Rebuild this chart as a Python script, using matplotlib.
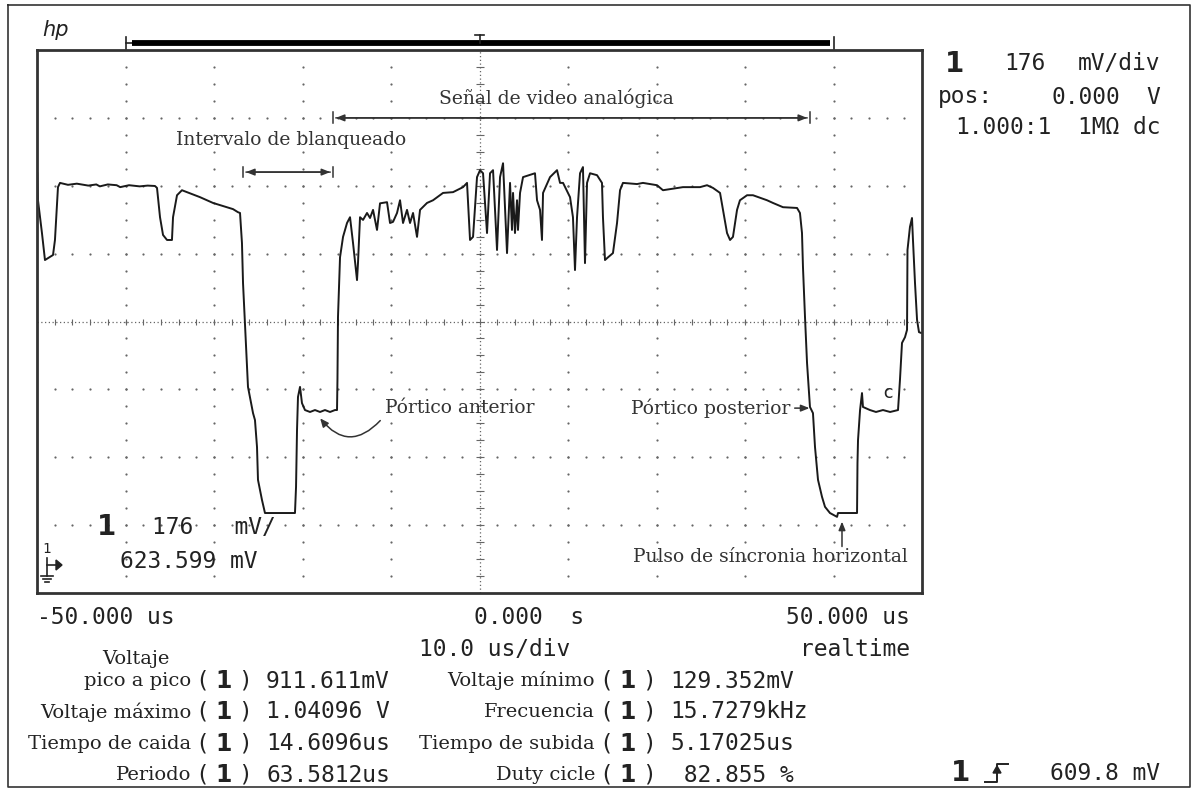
import numpy as np
import matplotlib.pyplot as plt
from matplotlib.lines import Line2D

# screen size in pixels
W, H = 1194, 790

# scope settings
center_mv = 623.6
mv_per_div = 176.0

# trace: time (us) and voltage (mV)
t_us = [-49.97, -49.89, -49.44, -49.10, -48.19, -47.97, -47.63, -47.40, -46.5, -45.5,
        -44.2, -43.3, -42.9, -42.0, -41.0, -40.6, -39.6, -38.4, -37.5, -36.67,
        -36.44, -36.10, -35.76, -35.31, -34.75, -34.63, -34.18, -33.62, -31.58, -30.11,
        -27.85, -27.29, -27.06, -26.84, -26.72, -26.50, -26.27, -26.16, -25.59, -25.37,
        -25.14, -25.03, -24.58, -24.24, -20.85, -20.73, -20.62, -20.51, -20.28, -20.06,
        -19.72, -19.15, -18.59, -18.02, -17.46, -16.89, -16.33, -16.10, -16.05, -15.99,
        -15.76, -15.42, -14.97, -14.63, -14.29, -13.84, -13.73, -13.50, -13.16, -12.71,
        -12.37, -12.03, -11.58, -11.24, -10.45, -10.11, -9.77, -9.32, -8.98, -8.64,
        -8.19, -7.85, -7.51, -7.06, -6.72, -5.93, -5.25, -4.12, -2.99, -1.86,
        -1.41, -1.07, -0.73, -0.28, 0.06, 0.40, 0.85, 1.19, 1.53, 1.98,
        2.32, 2.66, 3.11, 3.45, 3.67, 3.79, 4.01, 4.24, 4.35, 4.58,
        4.92, 6.27, 6.50, 6.84, 7.06, 7.18, 7.97, 8.76, 9.10, 9.44,
        10.23, 10.56, 10.79, 11.02, 11.36, 11.69, 11.92, 12.15, 12.49, 13.28,
        13.84, 13.95, 14.18, 14.52, 15.08, 15.54, 15.88, 16.21, 17.80, 18.47,
        20.06, 20.73, 22.99, 24.92, 25.71, 26.38, 27.18, 27.51, 27.97, 28.31,
        28.64, 29.10, 29.43, 30.23, 30.90, 32.49, 33.16, 34.29, 35.88, 36.21,
        36.44, 36.55, 36.78, 37.01, 37.34, 37.68, 37.91, 38.25, 38.70, 39.04,
        39.60, 40.40, 40.51, 42.66, 42.71, 42.77, 43.00, 43.22, 43.33, 44.12,
        44.8, 45.59, 46.4, 47.29, 47.51, 47.74, 48.08, 48.31, 48.36, 48.64,
        48.87, 48.98, 49.21, 49.44, 49.66, 49.89]
v_mv = [1008, 938, 853, 783, 796, 835, 972, 983, 978, 981,
        976, 979, 974, 979, 977, 972, 977, 974, 976, 975,
        970, 894, 848, 835, 835, 894, 951, 964, 946, 931,
        915, 907, 905, 827, 723, 619, 506, 454, 386, 368,
        298, 213, 161, 127, 127, 195, 342, 428, 454, 412,
        394, 389, 394, 389, 394, 389, 394, 394, 472, 635,
        790, 843, 879, 894, 827, 731, 775, 894, 887, 905,
        892, 913, 861, 930, 933, 879, 882, 905, 938, 879,
        913, 879, 905, 843, 913, 931, 938, 957, 959, 972,
        983, 835, 843, 998, 1016, 1008, 853, 1008, 1016, 809,
        998, 1034, 801, 983, 861, 957, 853, 938, 861, 957,
        998, 1008, 938, 913, 835, 957, 998, 1016, 983, 983,
        946, 894, 757, 894, 1008, 1024, 775, 983, 1008, 1003,
        983, 894, 783, 790, 801, 879, 964, 983, 980, 983,
        977, 964, 972, 972, 977, 970, 957, 913, 853, 835,
        843, 913, 938, 951, 951, 938, 931, 920, 918, 905,
        853, 765, 635, 516, 402, 386, 298, 213, 169, 143,
        127, 117, 127, 127, 257, 316, 394, 438, 402, 394,
        389, 394, 389, 394, 472, 568, 583, 602, 809, 869,
        892, 835, 723, 628, 596, 594]

# left column of measurements
left_labels = ["pico a pico", "Voltaje máximo", "Tiempo de caida", "Periodo"]
left_values = ["911.611mV", "1.04096 V", "14.6096us", "63.5812us"]
# right column of measurements
right_labels = ["Voltaje mínimo", "Frecuencia", "Tiempo de subida", "Duty cicle"]
right_values = ["129.352mV", "15.7279kHz", "5.17025us", " 82.855 %"]

MONO = "DejaVu Sans Mono"
SERIF = "DejaVu Serif"
INK = "#222222"
NOTE = "#333333"
FS_MONO = 16.5
FS_SERIF = 13.5


def ftxt(x, y, s, **kw):
    # place text using screen pixel positions
    kw.setdefault("color", INK)
    fig.text(x / W, 1 - y / H, s, **kw)


def fline(xs, ys, **kw):
    kw.setdefault("color", INK)
    fig.add_artist(Line2D([x / W for x in xs], [1 - y / H for y in ys], **kw))


fig = plt.figure(figsize=(W / 100, H / 100), dpi=100)
ax = fig.add_axes([37 / W, 1 - 593 / H, (922 - 37) / W, (593 - 50) / H])
ymin, ymax = center_mv - 4 * mv_per_div, center_mv + 4 * mv_per_div
ax.set_xlim(-50, 50)
ax.set_ylim(ymin, ymax)
ax.set_xticks([])
ax.set_yticks([])
for s in ax.spines.values():
    s.set_linewidth(2.0)
    s.set_color("#333333")

# graticule: dotted division lines
dot = dict(ls="none", marker="o", ms=1.6, color="#666666", mec="none")
for k in range(-4, 5):
    if k == 0:
        continue
    yy = np.arange(ymin + mv_per_div / 4, ymax, mv_per_div / 4)
    ax.plot(np.full_like(yy, k * 10.0), yy, **dot)
for k in range(-3, 4):
    if k == 0:
        continue
    xx = np.arange(-48, 49, 2.0)
    ax.plot(xx, np.full_like(xx, center_mv + k * mv_per_div), **dot)

# center axes, dense dots with small ticks
ax.axhline(center_mv, color="#666666", lw=0.9, ls=(0, (1, 2)))
ax.axvline(0, color="#666666", lw=0.9, ls=(0, (1, 2)))
xx = np.arange(-48, 49, 2.0)
ax.plot(xx, np.full_like(xx, center_mv), ls="none", marker="|", ms=5, mew=0.8, color="#666666")
yy = np.arange(ymin + mv_per_div / 4, ymax, mv_per_div / 4)
ax.plot(np.zeros_like(yy), yy, ls="none", marker="_", ms=6, mew=0.8, color="#666666")

# waveform
ax.plot(t_us, v_mv, color="#1a1a1a", lw=1.4)

# top record bar
tr = ax.get_xaxis_transform()
ax.plot([-40, -39.3], [1.0129, 1.0129], transform=tr, clip_on=False, color=INK, lw=1.2)
ax.plot([-39.3, 39.6], [1.0129, 1.0129], transform=tr, clip_on=False, color="black", lw=4.2,
        solid_capstyle="butt")
ax.plot([-40, -40], [1.002, 1.024], transform=tr, clip_on=False, color=INK, lw=1.2)
ax.plot([40, 40], [1.002, 1.024], transform=tr, clip_on=False, color=INK, lw=1.2)
ax.plot([0, 0], [1.0129, 1.027], transform=tr, clip_on=False, color=INK, lw=1.2)
ax.plot([-0.5, 0.5], [1.027, 1.027], transform=tr, clip_on=False, color=INK, lw=1.2)

# annotations inside the screen
head = dict(arrowstyle="-|>,head_length=0.5,head_width=0.2", color=NOTE, lw=1.1)
y_sig = center_mv + 3 * mv_per_div
ax.annotate("", xy=(-16.55, y_sig), xytext=(37.34, y_sig), arrowprops=head)
ax.annotate("", xy=(37.34, y_sig), xytext=(-16.55, y_sig), arrowprops=head)
for xb in (-16.55, 37.34):
    ax.plot([xb, xb], [y_sig - 14, y_sig + 14], color=NOTE, lw=1.1)
ax.text(8.64, 1203, "Señal de video analógica", family=SERIF, fontsize=FS_SERIF, color=NOTE,
        ha="center", va="center")

ax.annotate("", xy=(-26.7, 1011), xytext=(-16.55, 1011), arrowprops=head)
ax.annotate("", xy=(-16.55, 1011), xytext=(-26.7, 1011), arrowprops=head)
for xb in (-26.7, -16.55):
    ax.plot([xb, xb], [1011 - 14, 1011 + 14], color=NOTE, lw=1.1)
ax.text(-21.3, 1094, "Intervalo de blanqueado", family=SERIF, fontsize=FS_SERIF, color=NOTE,
        ha="center", va="center")

ax.text(-10.68, 399, "Pórtico anterior", family=SERIF, fontsize=FS_SERIF, color=NOTE,
        ha="left", va="center")
ax.annotate("", xy=(-18.2, 378), xytext=(-11.0, 372),
            arrowprops=dict(arrowstyle="-|>,head_length=0.5,head_width=0.22", color=NOTE, lw=1.1,
                            connectionstyle="arc3,rad=-0.6"))

ax.text(35.1, 399, "Pórtico posterior", family=SERIF, fontsize=FS_SERIF, color=NOTE,
        ha="right", va="center")
ax.annotate("", xy=(37.6, 399), xytext=(35.3, 399), arrowprops=head)

ax.text(32.9, 13, "Pulso de síncronia horizontal", family=SERIF, fontsize=FS_SERIF, color=NOTE,
        ha="center", va="center")
ax.annotate("", xy=(40.96, 112), xytext=(40.96, 33), arrowprops=head)

ax.text(46.1, 438, "c", family=MONO, fontsize=13, color=INK, ha="center", va="center")

# outer frame
fline([8, 1190, 1190, 8, 8], [5, 5, 787, 787, 5], lw=1.2, color="#333333")

# hp logo
ftxt(56, 30, "hp", family="DejaVu Sans", fontsize=15, style="italic", ha="center", va="center")

# channel info, right side
ftxt(955, 64, "1", family="DejaVu Sans", fontsize=20, weight="bold", ha="center", va="center")
ftxt(1025, 64, "176", family=MONO, fontsize=FS_MONO, ha="center", va="center")
ftxt(1160, 64, "mV/div", family=MONO, fontsize=FS_MONO, ha="right", va="center")
ftxt(938, 97, "pos:", family=MONO, fontsize=FS_MONO, ha="left", va="center")
ftxt(1120, 97, "0.000", family=MONO, fontsize=FS_MONO, ha="right", va="center")
ftxt(1160, 97, "V", family=MONO, fontsize=FS_MONO, ha="right", va="center")
ftxt(955, 128, "1.000:1", family=MONO, fontsize=FS_MONO, ha="left", va="center")
ftxt(1160, 128, "1MΩ dc", family=MONO, fontsize=FS_MONO, ha="right", va="center")

# offset info, bottom-left inside screen
ftxt(106, 527, "1", family="DejaVu Sans", fontsize=20, weight="bold", ha="center", va="center")
ftxt(152, 527, "176   mV/", family=MONO, fontsize=FS_MONO, ha="left", va="center")
ftxt(120, 561, "623.599 mV", family=MONO, fontsize=FS_MONO, ha="left", va="center")
ftxt(46, 549, "1", family=MONO, fontsize=10, ha="center", va="center")
fline([47, 47], [558, 576], lw=1.2)
fline([41, 53], [576, 576], lw=1.2)
fline([43, 51], [579, 579], lw=1.2)
fline([45, 49], [582, 582], lw=1.2)
fig.add_artist(plt.Polygon([[56 / W, 1 - 560 / H], [62 / W, 1 - 565 / H], [56 / W, 1 - 570 / H]],
                           closed=True, color=INK))
fline([47, 57], [565, 565], lw=1.2)

# time axis labels
ftxt(37, 618, "-50.000 us", family=MONO, fontsize=FS_MONO, ha="left", va="center")
ftxt(474, 618, "0.000  s", family=MONO, fontsize=FS_MONO, ha="left", va="center")
ftxt(910, 618, "50.000 us", family=MONO, fontsize=FS_MONO, ha="right", va="center")
ftxt(419, 649, "10.0 us/div", family=MONO, fontsize=FS_MONO, ha="left", va="center")
ftxt(910, 649, "realtime", family=MONO, fontsize=FS_MONO, ha="right", va="center")

# measurements
rows_y = [681, 712, 744, 775]
ftxt(136, 659, "Voltaje", family=SERIF, fontsize=14, ha="center", va="center")
for y, lab, val in zip(rows_y, left_labels, left_values):
    ftxt(191, y, lab, family=SERIF, fontsize=14, ha="right", va="center")
    ftxt(202, y, "(", family=MONO, fontsize=FS_MONO, ha="center", va="center")
    ftxt(224, y, "1", family="DejaVu Sans", fontsize=17, weight="bold", ha="center", va="center")
    ftxt(245, y, ")", family=MONO, fontsize=FS_MONO, ha="center", va="center")
    ftxt(266, y, val, family=MONO, fontsize=FS_MONO, ha="left", va="center")
for y, lab, val in zip(rows_y, right_labels, right_values):
    ftxt(595, y, lab, family=SERIF, fontsize=14, ha="right", va="center")
    ftxt(606, y, "(", family=MONO, fontsize=FS_MONO, ha="center", va="center")
    ftxt(628, y, "1", family="DejaVu Sans", fontsize=17, weight="bold", ha="center", va="center")
    ftxt(649, y, ")", family=MONO, fontsize=FS_MONO, ha="center", va="center")
    ftxt(670, y, val, family=MONO, fontsize=FS_MONO, ha="left", va="center")

# trigger level
ftxt(960, 773, "1", family="DejaVu Sans", fontsize=20, weight="bold", ha="center", va="center")
fline([985, 997, 997, 1008], [782, 782, 764, 764], lw=1.4)
fig.add_artist(plt.Polygon([[993 / W, 1 - 773 / H], [997 / W, 1 - 766 / H], [1001 / W, 1 - 773 / H]],
                           closed=True, color=INK))
ftxt(1160, 773, "609.8 mV", family=MONO, fontsize=FS_MONO, ha="right", va="center")

fig.savefig("out.png", dpi=100, facecolor="white")
